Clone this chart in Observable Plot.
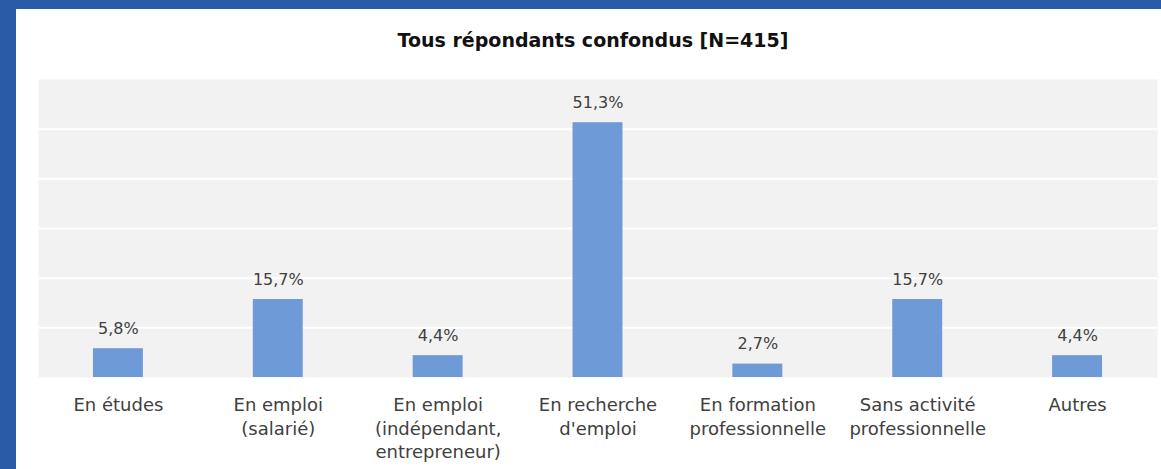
<!DOCTYPE html>
<html>
<head>
<meta charset="utf-8">
<script src="https://cdn.jsdelivr.net/npm/d3@7"></script>
<script src="https://cdn.jsdelivr.net/npm/@observablehq/plot@0.6"></script>
<style>
  html, body { margin: 0; padding: 0; background: #ffffff; }
  #frame {
    position: relative; width: 1161px; height: 469px; box-sizing: border-box;
    border-top: 9px solid #2a5ba6; border-left: 16px solid #2a5ba6;
    background: #ffffff; overflow: hidden;
  }
  #title {
    position: absolute; left: 0; top: 20px; width: 1154px; text-align: center;
    font-family: "DejaVu Sans", sans-serif; font-weight: bold; font-size: 19px;
    line-height: 22px; color: #111111;
  }
  #chart { position: absolute; left: 0; top: 51px; }
</style>
</head>
<body>
<div id="frame">
  <div id="title">Tous répondants confondus [N=415]</div>
  <div id="chart"></div>
</div>
<script>
const categories = ["etudes", "salarie", "independant", "recherche", "formation", "sans", "autres"];
const categoryLabels = [
  "En études",
  "En emploi\n(salarié)",
  "En emploi\n(indépendant,\nentrepreneur)",
  "En recherche\nd'emploi",
  "En formation\nprofessionnelle",
  "Sans activité\nprofessionnelle",
  "Autres"
];
const values = [5.8, 15.7, 4.4, 51.3, 2.7, 15.7, 4.4];
const gridTicks = [10, 20, 30, 40, 50];

const data = categories.map((c, i) => ({cat: c, label: categoryLabels[i], value: values[i]}));
const labelOf = new Map(data.map(d => [d.cat, d.label]));
const fmt = v => v.toFixed(1).replace(".", ",") + "%";

const chart = Plot.plot({
  width: 1145,
  height: 418,
  marginLeft: 22,
  marginRight: 4,
  marginTop: 19,
  marginBottom: 101,
  style: {fontFamily: "DejaVu Sans, sans-serif", background: "transparent", overflow: "visible"},
  x: {domain: categories, paddingInner: 0.6875, paddingOuter: 0.34375, round: false, axis: null},
  y: {domain: [0, 60], axis: null},
  marks: [
    Plot.frame({fill: "#f2f2f2", stroke: "none"}),
    Plot.ruleY(gridTicks, {stroke: "#ffffff", strokeWidth: 2}),
    Plot.barY(data, {x: "cat", y: "value", fill: "#6f9ad8"}),
    Plot.text(data, {x: "cat", y: "value", text: d => fmt(d.value), dy: -20, fontSize: 16, fill: "#404040"}),
    Plot.axisX({
      tickSize: 0, tickPadding: 17, fontSize: 18, lineHeight: 1.3, label: null,
      tickFormat: d => labelOf.get(d), fill: "#404040"
    })
  ]
});
document.getElementById("chart").appendChild(chart);
</script>
</body>
</html>
